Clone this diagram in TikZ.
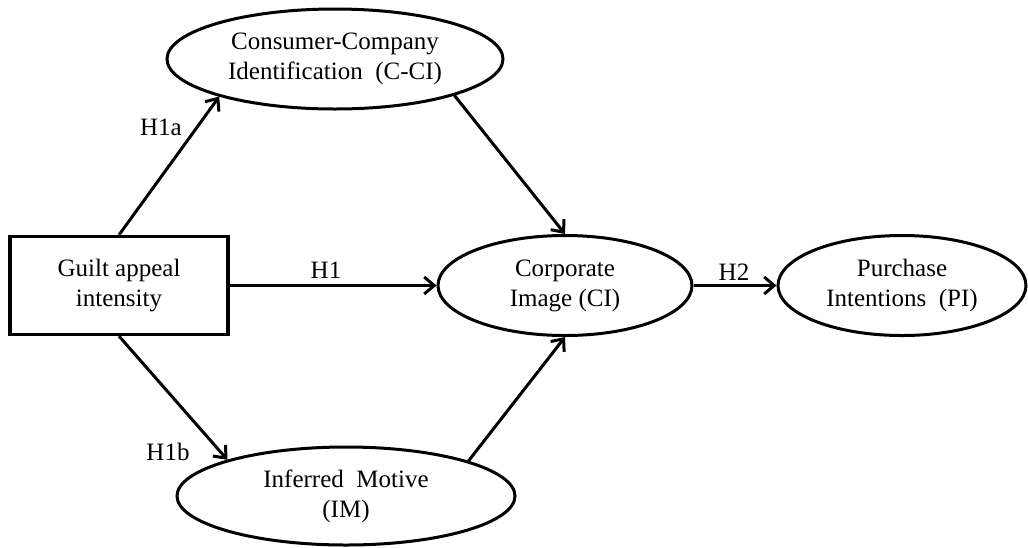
\documentclass[tikz,border=0pt]{standalone}
\usepackage{fontspec}
\setmainfont{Liberation Serif}
\usetikzlibrary{shapes.geometric,arrows.meta}
\begin{document}
\begin{tikzpicture}[x=1pt,y=-1pt,
  every node/.style={font=\fontsize{25}{30}\selectfont, align=center},
  ell/.style={draw, ellipse, line width=3pt, inner sep=0pt},
  box/.style={draw, rectangle, line width=3.2pt, inner sep=0pt, minimum width=218pt, minimum height=98pt},
  arr/.style={line width=3pt, -{Straight Barb[length=10pt,width=17pt]}}]
\useasboundingbox (0,0) rectangle (1028,547);
\fill[white] (0,0) rectangle (1028,547);
\node[box] (g) at (119,285.5) {Guilt appeal\\intensity};
\node[ell, minimum width=336pt, minimum height=100pt] (cci) at (335,59) {Consumer-Company\\Identification\ \ (C-CI)};
\node[ell, minimum width=338pt, minimum height=98pt] (im) at (346,496) {Inferred\ \ Motive\\(IM)};
\node[ell, minimum width=254pt, minimum height=100pt] (ci) at (565,285.5) {Corporate\\Image (CI)};
\node[ell, minimum width=248pt, minimum height=100pt] (pi) at (902,285.5) {Purchase\\Intentions\ \ (PI)};
\draw[arr] (g.north) -- (cci.198);
\draw[arr] (g.south) -- (im.163);
\draw[arr] (g.east) -- (ci.west);
\draw[arr] (cci.-17) -- (ci.north);
\draw[arr] (im.16) -- (ci.south);
\draw[arr] (ci.east) -- (pi.west);
\node (h1a) at (161,127) {H1a};
\node (h1b) at (168,452) {H1b};
\node (h1) at (326,270) {H1};
\node (h2) at (734,272) {H2};
\end{tikzpicture}
\end{document}
